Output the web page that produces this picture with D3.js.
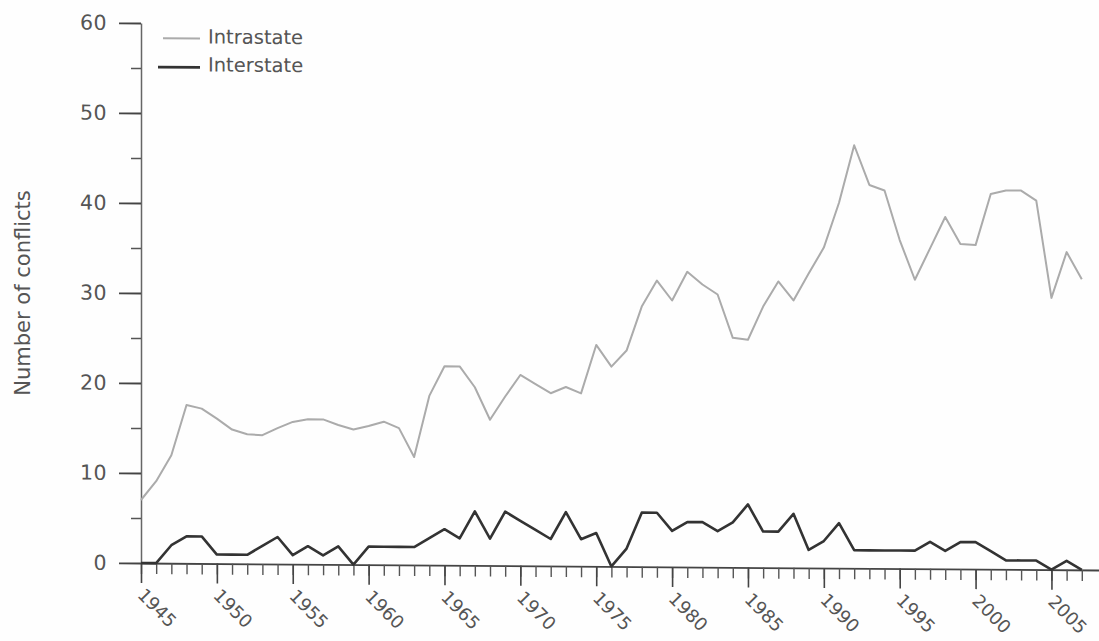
<!DOCTYPE html>
<html>
<head>
<meta charset="utf-8">
<script src="https://cdn.jsdelivr.net/npm/d3@7"></script>
<style>
  html, body { margin: 0; background: #fefefe; }
  svg { display: block; }
  text { font-family: "DejaVu Sans", "Liberation Sans", sans-serif; }
</style>
</head>
<body>
<svg id="chart" width="1099" height="641"></svg>
<script>
// Armed conflicts per year, 1945–2007
const years = [
  1945, 1946, 1947, 1948, 1949, 1950, 1951, 1952, 1953, 1954,
  1955, 1956, 1957, 1958, 1959, 1960, 1961, 1962, 1963, 1964,
  1965, 1966, 1967, 1968, 1969, 1970, 1971, 1972, 1973, 1974,
  1975, 1976, 1977, 1978, 1979, 1980, 1981, 1982, 1983, 1984,
  1985, 1986, 1987, 1988, 1989, 1990, 1991, 1992, 1993, 1994,
  1995, 1996, 1997, 1998, 1999, 2000, 2001, 2002, 2003, 2004,
  2005, 2006, 2007
];

const intrastate = [
  7, 9.1, 12, 17.6, 17.2, 16.1, 14.9, 14.4, 14.3, 15.1,
  15.8, 16.1, 16.1, 15.5, 15, 15.4, 15.9, 15.2, 12, 18.8,
  22.1, 22.1, 19.8, 16.2, 18.8, 21.2, 20.2, 19.2, 19.9, 19.2,
  24.6, 22.2, 24, 28.9, 31.8, 29.6, 32.8, 31.4, 30.3, 25.5,
  25.3, 29, 31.8, 29.7, 32.7, 35.6, 40.6, 47, 42.6, 42,
  36.5, 32.1, 35.6, 39.1, 36.1, 36, 41.7, 42.1, 42.1, 41,
  30.2, 35.3, 32.3
];

const interstate = [
  0, 0, 2, 3, 3, 1, 1, 1, 2, 3,
  1, 2, 1, 2, 0, 2, 2, 2, 2, 3,
  4, 3, 6, 3, 6, 5, 4, 3, 6, 3,
  3.7, 0, 2, 6, 6, 4, 5, 5, 4, 5,
  7, 4, 4, 6, 2, 3, 5, 2, 2, 2,
  2, 2, 3, 2, 3, 3, 2, 1, 1, 1,
  0, 1, 0
];

const seriesNames = ["Intrastate", "Interstate"];
const yMajorTicks = [0, 10, 20, 30, 40, 50, 60];
const yMinorTicks = [5, 15, 25, 35, 45, 55];
const xLabelYears = [1945, 1950, 1955, 1960, 1965, 1970, 1975, 1980, 1985, 1990, 1995, 2000, 2005];

const svg = d3.select("#chart");
const x0 = 141;
const x = d3.scaleLinear().domain([1945, 2008.2]).range([x0, 1100]);
const y = d3.scaleLinear().domain([0, 60]).range([563, 23]);

const inkAxis = "#444";
const inkText = "#555";

// the printed frame leans slightly: baseline drops toward the right
const plot = svg.append("g")
  .attr("transform", `translate(${x0},0) skewY(0.42) translate(${-x0},0)`);

// ---- y axis ----
const yAxis = plot.append("g")
  .attr("transform", `translate(${x0},0)`)
  .call(d3.axisLeft(y).tickValues(yMajorTicks).tickSize(22).tickSizeOuter(0)
    .tickPadding(12).tickFormat(d3.format("d")));
yAxis.select(".domain").attr("stroke", "#666").attr("stroke-width", 1.5);
yAxis.selectAll(".tick line").attr("stroke", inkAxis).attr("stroke-width", 1.8);
yAxis.selectAll(".tick text")
  .attr("fill", inkText).attr("font-size", 20.5)
  .attr("letter-spacing", 0.5)
  .attr("font-family", "DejaVu Sans, sans-serif");

const yMinor = plot.append("g")
  .attr("transform", `translate(${x0},0)`)
  .call(d3.axisLeft(y).tickValues(yMinorTicks).tickSize(10).tickSizeOuter(0).tickFormat(""));
yMinor.select(".domain").remove();
yMinor.selectAll(".tick line").attr("stroke", "#555").attr("stroke-width", 1.5);

// ---- x axis ----
const xMinor = plot.append("g")
  .attr("transform", `translate(0,${y(0)})`)
  .call(d3.axisBottom(x).tickValues(years).tickSize(11).tickSizeOuter(0).tickFormat(""));
xMinor.select(".domain").attr("stroke", inkAxis).attr("stroke-width", 1.8);
xMinor.selectAll(".tick line").attr("stroke", "#555").attr("stroke-width", 1.4);

const xMajor = plot.append("g")
  .attr("transform", `translate(0,${y(0)})`)
  .call(d3.axisBottom(x).tickValues(xLabelYears).tickSize(20).tickSizeOuter(0)
    .tickFormat(d3.format("d")));
xMajor.select(".domain").remove();
xMajor.selectAll(".tick line").attr("stroke", inkAxis).attr("stroke-width", 1.6);
xMajor.selectAll(".tick text")
  .attr("x", null).attr("y", null).attr("dy", null)
  .attr("text-anchor", "start")
  .attr("transform", "translate(-5,33) rotate(45)")
  .attr("fill", inkText).attr("font-size", 18)
  .attr("font-family", "DejaVu Sans, sans-serif");

// ---- series ----
const rowsIntra = years.map((yr, i) => ({ year: yr, value: intrastate[i] }));
const rowsInter = years.map((yr, i) => ({ year: yr, value: interstate[i] }));
const line = d3.line().x(d => x(d.year)).y(d => y(d.value));

plot.append("path").datum(rowsIntra)
  .attr("fill", "none").attr("stroke", "#ababab").attr("stroke-width", 2)
  .attr("stroke-linejoin", "round").attr("d", line);

plot.append("path").datum(rowsInter)
  .attr("fill", "none").attr("stroke", "#333").attr("stroke-width", 2.6)
  .attr("stroke-linejoin", "round").attr("d", line);

// ---- legend ----
const legendStyles = [
  { stroke: "#ababab", width: 2, x1: 163, y: 38, ty: 43 },
  { stroke: "#333", width: 2.8, x1: 158, y: 67, ty: 71 }
];
const legend = plot.append("g");
seriesNames.forEach((name, i) => {
  const s = legendStyles[i];
  legend.append("line")
    .attr("x1", s.x1).attr("x2", 200).attr("y1", s.y).attr("y2", s.y)
    .attr("stroke", s.stroke).attr("stroke-width", s.width);
  legend.append("text")
    .attr("x", 208).attr("y", s.ty)
    .attr("fill", inkText).attr("font-size", 19.5)
    .text(name);
});

// ---- y title ----
svg.append("text")
  .attr("transform", `translate(30,${(y(0) + y(60)) / 2}) rotate(-90)`)
  .attr("text-anchor", "middle")
  .attr("fill", inkText).attr("font-size", 21)
  .text("Number of conflicts");
</script>
</body>
</html>
